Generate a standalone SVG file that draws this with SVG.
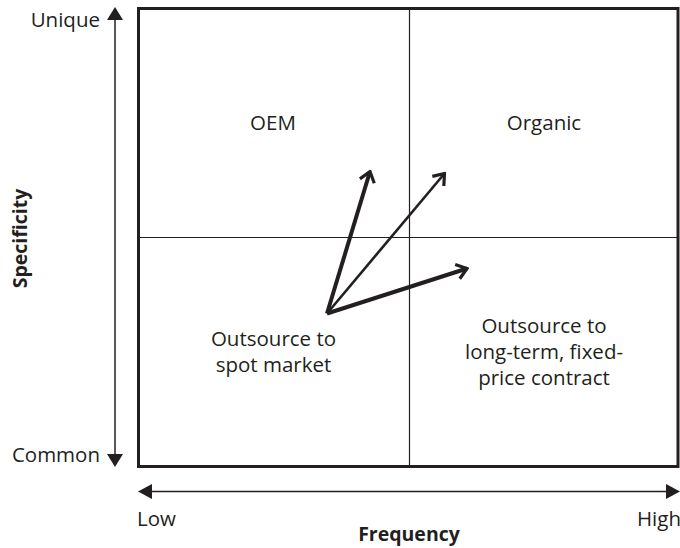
<svg xmlns="http://www.w3.org/2000/svg" width="680" height="548" viewBox="0 0 680 548">
<defs>
<style>
text{font-family:"Open Sans","Noto Sans","Liberation Sans",sans-serif;font-size:20.5px;fill:#231f20}
.b{font-weight:bold;font-size:19.5px}
.m{text-anchor:middle}
.ax{stroke:#231f20;stroke-width:1.5;fill:none}
.grid{stroke:#231f20;stroke-width:1.2;fill:none}
.vec{stroke:#231f20;fill:none;stroke-linecap:butt}
</style>
<marker id="chev" viewBox="-14 -10 16 20" markerWidth="16" markerHeight="20" refX="0" refY="0" orient="auto" markerUnits="userSpaceOnUse">
<path d="M-10,-7.5 L0,0 L-10,7.5" fill="none" stroke="#231f20" stroke-width="3.2" stroke-linejoin="miter"/>
</marker>
</defs>
<rect width="680" height="548" fill="#fff"/>
<g id="frame">
<rect x="138.5" y="8.5" width="539.5" height="458" fill="none" stroke="#231f20" stroke-width="3"/>
<line class="grid" x1="409.5" y1="8" x2="409.5" y2="466"/>
<line class="grid" x1="138" y1="237.5" x2="678" y2="237.5"/>
</g>
<g id="axes">
<line class="ax" x1="115" y1="18" x2="115" y2="456"/>
<path d="M115,7 L107,20 L123,20 Z" fill="#231f20"/>
<path d="M115,467 L107,454 L123,454 Z" fill="#231f20"/>
<line class="ax" x1="150" y1="491.5" x2="668" y2="491.5"/>
<path d="M138,491.5 L152,484 L152,499 Z" fill="#231f20"/>
<path d="M680,491.5 L666,484 L666,499 Z" fill="#231f20"/>
<text x="100" y="26.5" text-anchor="end">Unique</text>
<text x="100" y="461.5" text-anchor="end">Common</text>
<text x="137" y="525.5">Low</text>
<text x="681" y="525.5" text-anchor="end">High</text>
<text class="b m" x="409" y="541">Frequency</text>
<text class="b m" transform="translate(27,238.5) rotate(-90)">Specificity</text>
</g>
<g id="oem"><text class="m" x="273" y="129.5">OEM</text></g>
<g id="organic"><text class="m" x="544" y="129.5">Organic</text></g>
<g id="spot"><text class="m" x="273.5" y="345.5">Outsource to</text><text class="m" x="273.5" y="371.5">spot market</text></g>
<g id="longterm"><text class="m" x="544" y="332.5">Outsource to</text><text class="m" x="544" y="358.5">long-term, fixed-</text><text class="m" x="544" y="384.5">price contract</text></g>
<g id="connectors">
<line class="vec" x1="327" y1="313.5" x2="370" y2="171.5" stroke-width="4" marker-end="url(#chev)"/>
<line class="vec" x1="327" y1="313.5" x2="444.5" y2="173.5" stroke-width="2.6" marker-end="url(#chev)"/>
<line class="vec" x1="327" y1="313.5" x2="467" y2="268.5" stroke-width="4" marker-end="url(#chev)"/>
</g>
</svg>
